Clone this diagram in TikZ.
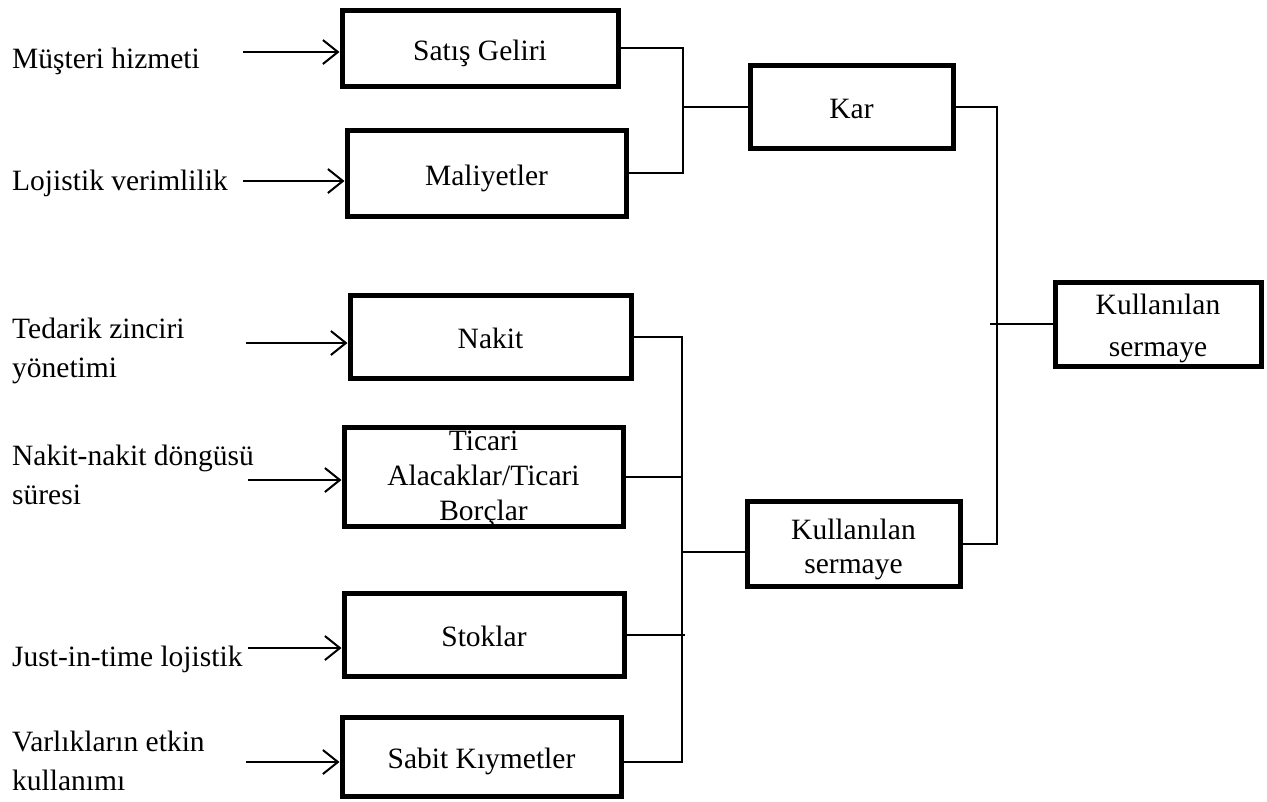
\documentclass[tikz,border=0pt]{standalone}
\usepackage{fontspec}
\setmainfont{Liberation Serif}
\usetikzlibrary{arrows.meta}
\begin{document}
\begin{tikzpicture}[x=1pt,y=-1pt,
  box/.style={draw,line width=5pt,minimum width=#1,inner sep=0pt,font=\fontsize{29.5}{35}\selectfont,align=center,text height=31pt,text depth=7pt},
  boxtext/.style={inner sep=0pt,font=\fontsize{29.5}{#1}\selectfont,align=center},
  lbl/.style={inner sep=0pt,font=\fontsize{29.5}{39}\selectfont,align=left},
  thin/.style={line width=2pt},
  arr/.style={line width=2pt,-{Straight Barb[length=15pt,width=24pt,line width=2pt]}}]
\useasboundingbox (0,0) rectangle (1267,801);
% boxes
\node[box=276pt,minimum height=76pt] (sat) at (480,48) {Satış Geliri};
\node[box=279pt,minimum height=86pt] (mal) at (486.5,173) {Maliyetler};
\node[box=203pt,minimum height=83pt] (kar) at (851.5,106.5) {Kar};
\node[box=281pt,minimum height=83pt] (nak) at (490.5,336.5) {Nakit};
\node[box=279pt,minimum height=99pt] (tic) at (483.5,476.5) {};
\node[boxtext=35] (tict) at (483.5,479) {Ticari\\Alacaklar/Ticari\\Borçlar};
\node[box=280pt,minimum height=83pt] (sto) at (484,634.5) {Stoklar};
\node[box=279pt,minimum height=79pt] (sab) at (481.5,756.5) {Sabit Kıymetler};
\node[box=213pt,minimum height=85pt] (ks) at (853.5,543.5) {};
\node[boxtext=34] (kst) at (853.5,549) {Kullanılan\\sermaye};
\node[box=206pt,minimum height=84pt] (kr) at (1158,324) {};
\node[boxtext=42] (krt) at (1158,328) {Kullanılan\\sermaye};
% left labels
\node[lbl,anchor=base west] (l1) at (12,68) {Müşteri hizmeti};
\node[lbl,anchor=base west] (l2) at (12,190) {Lojistik verimlilik};
\node[lbl,anchor=west] (l3) at (12,351) {Tedarik zinciri\\yönetimi};
\node[lbl,anchor=west] (l4) at (12,475) {Nakit-nakit döngüsü\\süresi};
\node[lbl,anchor=base west] (l5) at (12,666) {Just-in-time lojistik};
\node[lbl,anchor=west] (l6) at (12,761) {Varlıkların etkin\\kullanımı};
% arrow starts
\coordinate (a1) at (243,52);
\coordinate (a2) at (243,181);
\coordinate (a3) at (246,343);
\coordinate (a4) at (248,480);
\coordinate (a5) at (248,648);
\coordinate (a6) at (246,762);
\draw[arr] (a1) -- (a1 -| sat.west);
\draw[arr] (a2) -- (a2 -| mal.west);
\draw[arr] (a3) -- (a3 -| nak.west);
\draw[arr] (a4) -- (a4 -| tic.west);
\draw[arr] (a5) -- (a5 -| sto.west);
\draw[arr] (a6) -- (a6 -| sab.west);
% junctions
\coordinate (jA) at (683,107);
\coordinate (jB) at (997,324);
\coordinate (jC) at (682,552);
\draw[thin] (sat.east) -| (jA);
\draw[thin] (mal.east) -| (jA);
\draw[thin] (jA) -- (jA -| kar.west);
\draw[thin] (kar.east) -| (jB);
\draw[thin] (ks.east) -| (jB);
\draw[thin] ([xshift=-7pt]jB) -- (jB -| kr.west);
\draw[thin] (nak.east) -| (jC);
\draw[thin] (sab.east |- a6) -| (jC);
\draw[thin] (tic.east) -- (tic.east -| jC);
\draw[thin] (sto.east) -- ([xshift=3pt]sto.east -| jC);
\draw[thin] (jC) -- (jC -| ks.west);
\end{tikzpicture}
\end{document}
